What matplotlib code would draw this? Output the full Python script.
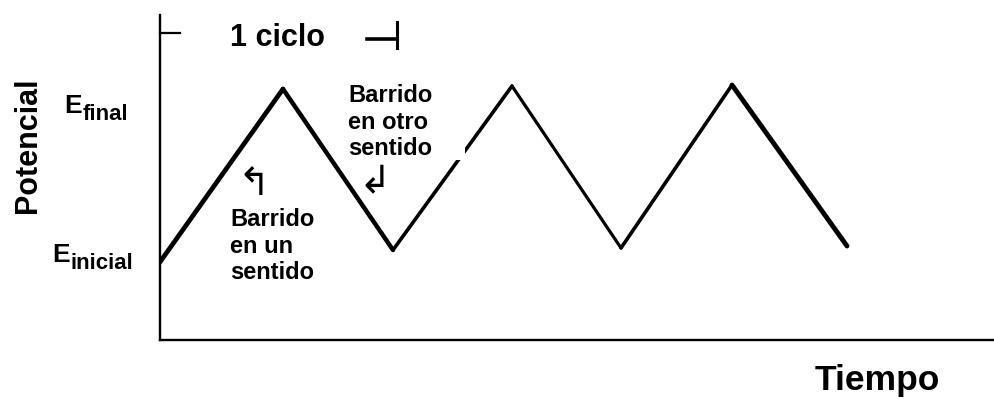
import matplotlib.pyplot as plt
from matplotlib.patches import Rectangle

# valores (unidades arbitrarias)
tiempo = [0, 123, 233, 352, 461, 572, 687]
potencial = [78, 251, 90, 254, 92, 255, 94]
grosor = [3.4, 3.2, 2.6, 2.3, 2.6, 3.5]   # grosor de cada tramo

etiqueta_x = "Tiempo"
etiqueta_y = "Potencial"
texto_ciclo = "1 ciclo"
texto_ida = "Barrido\nen un\nsentido"
texto_vuelta = "Barrido\nen otro\nsentido"

W, H = 995, 399
plt.rcParams['font.family'] = ['Liberation Sans', 'DejaVu Sans']


def px(x, y):
    # pixel de la imagen -> fraccion de la figura
    return x / W, 1 - y / H


fig = plt.figure(figsize=(W / 100, H / 100), dpi=100)
ax = fig.add_axes([160 / W, (H - 340) / H, (W - 160) / W, 325 / H])
ax.set_xlim(0, 835)
ax.set_ylim(0, 325)

for i in range(len(tiempo) - 1):
    ax.plot(tiempo[i:i + 2], potencial[i:i + 2], color='black', lw=grosor[i],
            solid_capstyle='round', zorder=2)

# hueco blanco detras del texto "Barrido en otro sentido"
ax.add_patch(Rectangle((280, 180), 25, 60, facecolor='white', edgecolor='none', zorder=3))

# marcas de "1 ciclo"
ax.plot([tiempo[0], tiempo[0] + 20], [307, 307], color='black', lw=1.6, clip_on=False)
ax.plot([tiempo[2] - 26, tiempo[2] + 4], [301, 301], color='black', lw=2.6, clip_on=False)
ax.plot([tiempo[2] + 4, tiempo[2] + 4], [292, 318], color='black', lw=2.2, clip_on=False)

for s in ['top', 'right']:
    ax.spines[s].set_visible(False)
for s in ['left', 'bottom']:
    ax.spines[s].set_linewidth(1.7)
ax.set_xticks([])
ax.set_yticks([])

# textos
fig.text(*px(28, 145), etiqueta_y, rotation=90, fontsize=22, fontweight='bold',
         ha='center', va='center')
fig.text(*px(815, 390), etiqueta_x, fontsize=25.5, fontweight='bold', ha='left', va='baseline')
fig.text(*px(230, 46), texto_ciclo, fontsize=22, fontweight='bold', ha='left', va='baseline')
fig.text(*px(348, 84), texto_vuelta, fontsize=17, fontweight='bold', ha='left',
         va='top', linespacing=1.2)
fig.text(*px(230, 208), texto_ida, fontsize=17, fontweight='bold', ha='left',
         va='top', linespacing=1.2)
fig.text(*px(254, 184), "\u21b0", fontsize=28, ha='center', va='center', family='DejaVu Sans')
fig.text(*px(375, 181), "\u21b2", fontsize=28, ha='center', va='center', family='DejaVu Sans')

for x, y, sub in [(64, 113, "final"), (52, 262, "inicial")]:
    e = fig.text(*px(x, y), "E", fontsize=19, fontweight='bold', ha='left', va='baseline')
    fig.canvas.draw()
    ax.annotate(sub, xy=(1, 0), xycoords=e, xytext=(0.5, -1.5), textcoords='offset points',
                fontsize=16, fontweight='bold', ha='left', va='baseline', annotation_clip=False)

fig.savefig('out.png', dpi=100)
